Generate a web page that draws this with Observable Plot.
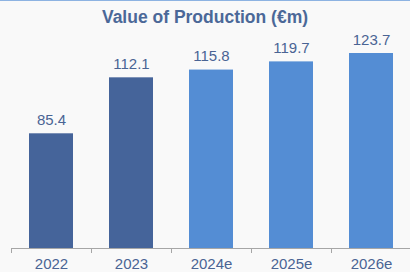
<!DOCTYPE html>
<html>
<head>
<meta charset="utf-8">
<script src="https://cdn.jsdelivr.net/npm/d3@7"></script>
<script src="https://cdn.jsdelivr.net/npm/@observablehq/plot@0.6"></script>
<style>
  html, body { margin: 0; padding: 0; background: #f9f9f9; }
  #wrap { width: 410px; height: 271px; border-top: 1px solid #8db3e2; background: #f9f9f9; overflow: hidden; }
  #title { height: 22px; padding-top: 6px; line-height: 22px; text-align: center;
           font: bold 17.5px "Liberation Sans", Arial, sans-serif; color: #4b6898; white-space: nowrap; }
</style>
</head>
<body>
<div id="wrap">
  <div id="title">Value of Production (€m)</div>
  <div id="chart"></div>
</div>
<script>
const categories = ["2022", "2023", "2024e", "2025e", "2026e"];
const values = [85.4, 112.1, 115.8, 119.7, 123.7];
const labels = ["85.4", "112.1", "115.8", "119.7", "123.7"];

const data = categories.map((c, i) => ({
  year: c, value: values[i], label: labels[i],
  kind: c.endsWith("e") ? "estimate" : "actual"
}));

const W = 410, H = 243, mL = 11, mR = -1;
const yMin = 30.7;
const bw = (W - mL - mR) / categories.length;
const textColor = "#4a6494";

const chart = Plot.plot({
  width: W, height: H,
  marginLeft: mL, marginRight: mR, marginTop: 24, marginBottom: 24,
  style: { background: "transparent", fontFamily: "'Liberation Sans', Arial, sans-serif", fontSize: "15px", color: textColor },
  x: { domain: categories, padding: 0 },
  y: { domain: [yMin, 123.7], axis: null },
  color: { domain: ["actual", "estimate"], range: ["#45649a", "#548dd4"] },
  marks: [
    Plot.rectY(data, { x: "year", y1: yMin, y2: "value", fill: "kind", insetLeft: 18, insetRight: 18 }),
    Plot.text(data, { x: "year", y: "value", text: "label", dy: -9, lineAnchor: "bottom", fill: textColor, fontSize: 15 }),
    Plot.ruleY([yMin], { stroke: "#a6a6a6", strokeWidth: 1 }),
    Plot.axisX({ tickSize: 5, dx: -bw / 2, tickFormat: () => "", stroke: "#a6a6a6", label: null }),
    Plot.axisX({ tickSize: 0, tickPadding: 10, fill: textColor, fontSize: 15, label: null })
  ]
});
document.getElementById("chart").appendChild(chart);
</script>
</body>
</html>
